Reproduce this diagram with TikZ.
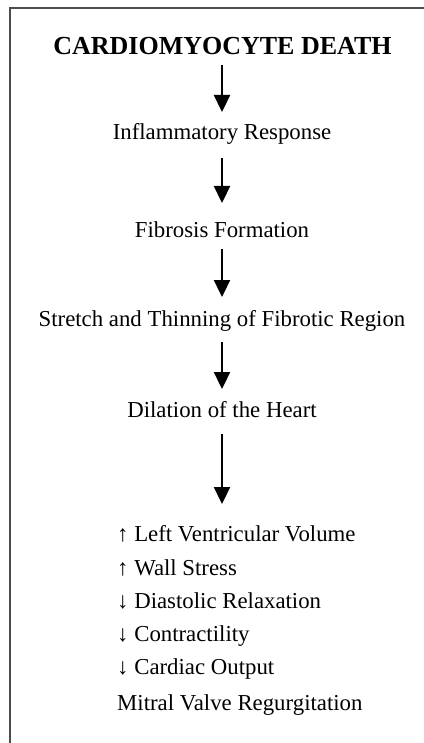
\documentclass[tikz,border=0pt]{standalone}
\usepackage{fontspec}
\setmainfont{Liberation Serif}
\usetikzlibrary{arrows.meta}
\begin{document}
\begin{tikzpicture}[x=1pt,y=1pt,
  step txt/.style={anchor=base,inner sep=0pt,font=\fontsize{22.8}{27}\selectfont},
  title txt/.style={anchor=base,inner sep=0pt,font=\fontsize{26}{30}\selectfont\bfseries},
  list txt/.style={anchor=base west,inner sep=0pt,font=\fontsize{22.8}{27}\selectfont},
  flow/.style={line width=2.3pt,-{Triangle[width=16pt,length=17pt]}},
  frame/.style={draw=black!70,line width=2pt}]
\useasboundingbox (0,0) rectangle (423,-743);
\fill[white] (0,0) rectangle (423,-743);
\draw[frame] (10,-750) -- (10,-8) -- (430,-8);
\node[title txt] (title) at (222.5,-55) {CARDIOMYOCYTE DEATH};
\node[step txt] (infl) at (222,-139.3) {Inflammatory Response};
\node[step txt] (fib) at (222,-237) {Fibrosis Formation};
\node[step txt] (str) at (222,-326.7) {Stretch and Thinning of Fibrotic Region};
\node[step txt] (dil) at (222,-417.7) {Dilation of the Heart};
\node[list txt] (l1) at (117,-541) {↑ Left Ventricular Volume};
\node[list txt] (l2) at (117,-575) {↑ Wall Stress};
\node[list txt] (l3) at (117,-608) {↓ Diastolic Relaxation};
\node[list txt] (l4) at (117,-641.5) {↓ Contractility};
\node[list txt] (l5) at (117,-674.5) {↓ Cardiac Output};
\node[list txt] (l6) at (117,-710.7) {Mitral Valve Regurgitation};
\draw[flow] ([xshift=-0.5pt,yshift=-10pt]title.base) -- ([yshift=27.3pt]infl.base);
\draw[flow] ([yshift=-18.4pt]infl.base) -- ([yshift=34pt]fib.base);
\draw[flow] ([yshift=-12pt]fib.base) -- ([yshift=29.7pt]str.base);
\draw[flow] ([yshift=-15.3pt]str.base) -- ([yshift=28.7pt]dil.base);
\draw[flow] ([yshift=-16.3pt]dil.base) -- (222,-504) coordinate (lt);
\end{tikzpicture}
\end{document}
